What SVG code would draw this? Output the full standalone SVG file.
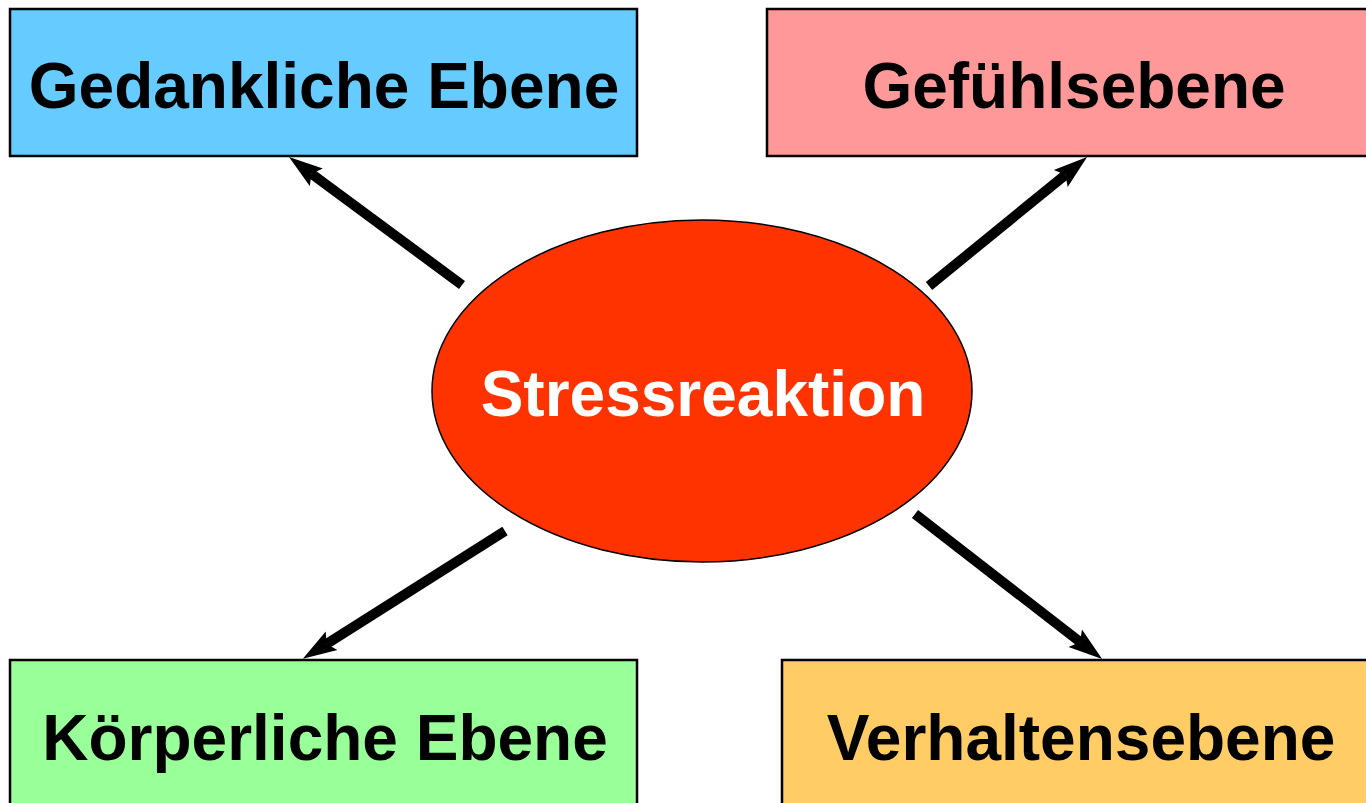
<svg xmlns="http://www.w3.org/2000/svg" width="1366" height="803" viewBox="0 0 1366 803">
<style>
.box{stroke:#000;stroke-width:2.5}
.lbl{font-family:"Liberation Sans",Arial,sans-serif;font-weight:bold;font-size:64px;text-anchor:middle;fill:#000}
.conn{stroke:#000;stroke-width:10;fill:none}
</style>
<defs>
<marker id="ah" markerUnits="userSpaceOnUse" markerWidth="34" markerHeight="24" viewBox="0 0 34 24" refX="6" refY="12" orient="auto">
<path d="M0,1 L34,12 L0,23 L6,12 z" fill="#000"/>
</marker>
</defs>
<rect width="1366" height="803" fill="#fff"/>
<g id="gedankliche">
<rect class="box" x="10" y="9" width="627" height="147" fill="#66CCFF"/>
<text class="lbl" x="324" y="108">Gedankliche Ebene</text>
</g>
<g id="gefuehl">
<rect class="box" x="767" y="9" width="620" height="147" fill="#FF9999"/>
<text class="lbl" x="1074" y="108">Gefühlsebene</text>
</g>
<g id="koerper">
<rect class="box" x="10" y="660" width="627" height="150" fill="#99FF99"/>
<text class="lbl" x="325" y="760">Körperliche Ebene</text>
</g>
<g id="verhalten">
<rect class="box" x="782" y="660" width="605" height="150" fill="#FFCC66"/>
<text class="lbl" x="1081" y="760">Verhaltensebene</text>
</g>
<g id="stress">
<ellipse cx="702" cy="391" rx="270" ry="171" fill="#FF3300" stroke="#000" stroke-width="1.5"/>
<text class="lbl" x="703" y="416" fill="#fff" style="fill:#fff">Stressreaktion</text>
</g>
<g id="connectors">
<line class="conn" x1="462" y1="285" x2="311.5" y2="173.7" marker-end="url(#ah)"/>
<line class="conn" x1="929" y1="286" x2="1065.4" y2="174.8" marker-end="url(#ah)"/>
<line class="conn" x1="505" y1="531" x2="326.5" y2="643.9" marker-end="url(#ah)"/>
<line class="conn" x1="915" y1="514" x2="1080" y2="641.9" marker-end="url(#ah)"/>
</g>
</svg>
